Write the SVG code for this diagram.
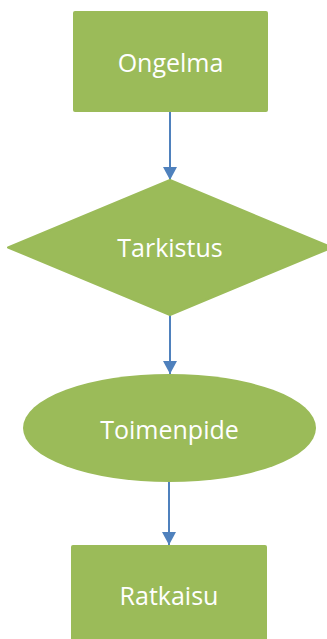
<svg xmlns="http://www.w3.org/2000/svg" width="327" height="639" viewBox="0 0 327 639">
<defs>
<style>
.node{fill:#9BBB59;}
.lbl{fill:#ffffff;font-family:"Open Sans","Liberation Sans",sans-serif;font-size:25px;text-anchor:middle;dominant-baseline:central;}
.conn{stroke:#4F81BD;stroke-width:2;fill:none;marker-end:url(#arr);}
</style>
<marker id="arr" viewBox="0 0 13 14" refX="13" refY="7" markerWidth="13" markerHeight="14" markerUnits="userSpaceOnUse" orient="auto">
<path d="M0,0 L13,7 L0,14 Z" fill="#4F81BD"/>
</marker>
</defs>
<rect width="327" height="639" fill="#ffffff"/>
<g id="connectors">
<line class="conn" x1="170" y1="112" x2="170" y2="180"/>
<line class="conn" x1="170" y1="315" x2="170" y2="374"/>
<line class="conn" x1="169" y1="482" x2="169" y2="545"/>
</g>
<g id="ongelma">
<rect class="node" x="73" y="11" width="195" height="101" rx="2"/>
<text class="lbl" x="170.5" y="62">Ongelma</text>
</g>
<g id="tarkistus">
<polygon class="node" points="170,180 332,247.5 170,315 8,247.5" stroke="#9BBB59" stroke-width="2" stroke-linejoin="round"/>
<text class="lbl" x="170" y="247">Tarkistus</text>
</g>
<g id="toimenpide">
<ellipse class="node" cx="169.5" cy="428" rx="146.5" ry="54"/>
<text class="lbl" x="169.5" y="429">Toimenpide</text>
</g>
<g id="ratkaisu">
<rect class="node" x="71" y="545" width="196" height="110" rx="2"/>
<text class="lbl" x="169" y="595">Ratkaisu</text>
</g>
</svg>
